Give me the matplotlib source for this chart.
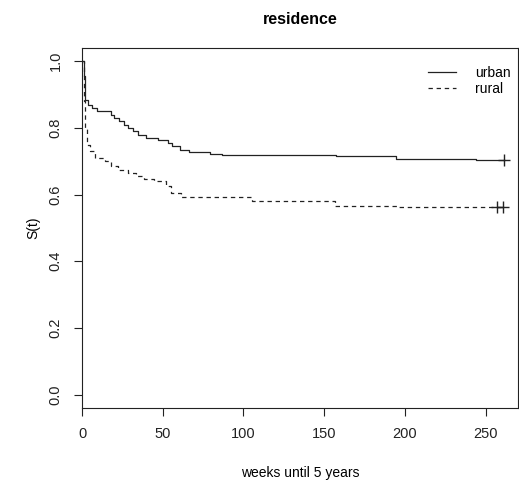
import numpy as np
import matplotlib.pyplot as plt

plt.rcParams['font.family'] = ['Liberation Sans', 'DejaVu Sans']

# Kaplan-Meier steps
urban_t = [0, 1, 2, 3.7, 6.5, 9, 18, 20, 23, 26, 28.5, 31.5, 34.6, 39.8, 47, 53,
           56, 61, 66, 79, 87, 157.5, 194.6, 244, 261.6]
urban_s = [1.0, 0.955, 0.885, 0.87, 0.86, 0.85, 0.84, 0.83, 0.82, 0.81, 0.80, 0.79,
           0.78, 0.77, 0.765, 0.755, 0.745, 0.735, 0.728, 0.723, 0.72, 0.715, 0.708,
           0.703, 0.703]
rural_t = [0, 1, 2, 3, 5, 8, 14, 18, 22.6, 28.4, 33.5, 38.6, 44.8, 52, 55, 61.4,
           105, 156.5, 195, 260.5]
rural_s = [1.0, 0.88, 0.80, 0.75, 0.73, 0.71, 0.70, 0.685, 0.675, 0.665, 0.655,
           0.648, 0.64, 0.625, 0.605, 0.593, 0.58, 0.566, 0.562, 0.562]

# censored observations
urban_cens_t = [261.6]
urban_cens_s = [0.703]
rural_cens_t = [257, 260.5]
rural_cens_s = [0.562, 0.562]

fig = plt.figure(figsize=(5.19, 4.88), dpi=100)
ax = fig.add_axes([0.158, 0.164, 0.84, 0.738])

col = '#222222'
ax.plot(urban_t, urban_s, drawstyle='steps-post', color=col, lw=0.9, label='urban')
ax.plot(rural_t, rural_s, drawstyle='steps-post', color=col, lw=0.9,
        dashes=(3.5, 3), label='rural')
ax.plot(urban_cens_t, urban_cens_s, '+', color=col, ms=8, mew=1)
ax.plot(rural_cens_t, rural_cens_s, '+', color=col, ms=8, mew=1)

ax.set_xlim(0, 270)
ax.set_ylim(-0.04, 1.04)
ax.set_xticks([0, 50, 100, 150, 200, 250])
ax.set_yticks([0.0, 0.2, 0.4, 0.6, 0.8, 1.0])
ax.set_yticklabels(['0.0', '0.2', '0.4', '0.6', '0.8', '1.0'], rotation=90, va='center')
ax.tick_params(direction='out', length=6, width=0.8, labelsize=10.5, colors='#222222',
               pad=8)
for sp in ax.spines.values():
    sp.set_linewidth(0.8)
    sp.set_color('#222222')

ax.set_title('residence', fontsize=11.5, fontweight='bold', pad=17)
ax.set_xlabel('weeks until 5 years', fontsize=10, labelpad=18)
ax.set_ylabel('S(t)', fontsize=10, labelpad=6)

ax.legend(loc='upper right', frameon=False, fontsize=10, handlelength=2.0,
          handletextpad=1.4, labelspacing=0.2, borderaxespad=0.1,
          bbox_to_anchor=(1.0, 0.97))

fig.savefig('out.png', dpi=100)
